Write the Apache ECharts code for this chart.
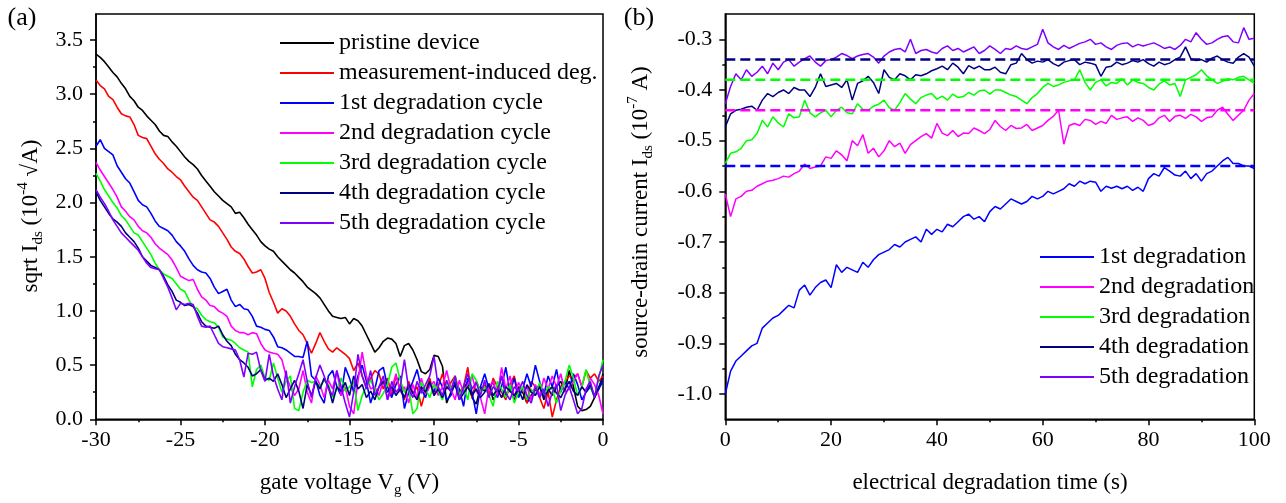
<!DOCTYPE html>
<html><head><meta charset="utf-8">
<script src="https://cdn.jsdelivr.net/npm/echarts@6/dist/echarts.min.js"></script>
<style>html,body{margin:0;padding:0;background:#fff}#c{width:1286px;height:503px}</style>
</head><body><div id="c"></div>
<script>
// ---------- panel (a) ----------
const gateVoltage = [-30,-29.75,-29.5,-29.25,-29,-28.75,-28.5,-28.25,-28,-27.75,-27.5,-27.25,-27,-26.75,-26.5,-26.25,-26,-25.75,-25.5,-25.25,-25,-24.75,-24.5,-24.25,-24,-23.75,-23.5,-23.25,-23,-22.75,-22.5,-22.25,-22,-21.75,-21.5,-21.25,-21,-20.75,-20.5,-20.25,-20,-19.75,-19.5,-19.25,-19,-18.75,-18.5,-18.25,-18,-17.75,-17.5,-17.25,-17,-16.75,-16.5,-16.25,-16,-15.75,-15.5,-15.25,-15,-14.75,-14.5,-14.25,-14,-13.75,-13.5,-13.25,-13,-12.75,-12.5,-12.25,-12,-11.75,-11.5,-11.25,-11,-10.75,-10.5,-10.25,-10,-9.75,-9.5,-9.25,-9,-8.75,-8.5,-8.25,-8,-7.75,-7.5,-7.25,-7,-6.75,-6.5,-6.25,-6,-5.75,-5.5,-5.25,-5,-4.75,-4.5,-4.25,-4,-3.75,-3.5,-3.25,-3,-2.75,-2.5,-2.25,-2,-1.75,-1.5,-1.25,-1,-0.75,-0.5,-0.25,0];
const sqrtPristine = [3.37,3.34,3.30,3.25, 3.20,3.16,3.10,3.05, 2.98,2.94,2.88,2.85, 2.80,2.76,2.72,2.66, 2.62,2.61,2.56,2.52, 2.47,2.42,2.38,2.35, 2.31,2.25,2.20,2.15, 2.10,2.06,2.02,1.99, 1.96,1.90,1.91,1.86, 1.80,1.75,1.70,1.64, 1.60,1.57,1.55,1.50, 1.46,1.42,1.38,1.35, 1.31,1.27,1.22,1.19, 1.16,1.12,1.06,1.00, 0.95,0.94,0.93,0.94, 0.88,0.93,0.91,0.86, 0.78,0.70,0.62,0.66, 0.72,0.75,0.74,0.70, 0.58,0.68,0.70,0.64, 0.55,0.44,0.42,0.46, 0.59,0.58,0.49,0.15, 0.25,0.32,0.22,0.28, 0.35,0.20,0.14,0.30, 0.26,0.33,0.18,0.25, 0.40,0.22,0.30,0.18, 0.30,0.25,0.15,0.22, 0.27,0.32,0.18,0.28, 0.22,0.30,0.35,0.26, 0.45,0.30,0.12,0.08, 0.09,0.12,0.20,0.28, 0.42];
const sqrtMeasDeg = [3.13,3.08,3.05,2.98, 2.95,2.88,2.82,2.80, 2.79,2.72,2.62,2.60, 2.59,2.52,2.45,2.40, 2.36,2.31,2.28,2.24, 2.21,2.15,2.10,2.05, 2.02,1.96,1.90,1.84, 1.82,1.78,1.72,1.66, 1.59,1.55,1.53,1.48, 1.41,1.35,1.36,1.38, 1.30,1.17,1.08,0.98, 1.02,1.00,0.95,0.88, 0.82,0.78,0.70,0.61, 0.70,0.80,0.72,0.65, 0.62,0.66,0.63,0.60, 0.56,0.45,0.52,0.40, 0.30,0.38,0.45,0.42, 0.28,0.38,0.22,0.40, 0.28,0.18,0.35,0.24, 0.30,0.12,0.26,0.38, 0.22,0.30,0.42,0.28, 0.34,0.40,0.25,0.30, 0.48,0.20,0.35,0.26, 0.32,0.22,0.38,0.30, 0.25,0.18,0.32,0.40, 0.22,0.28,0.15,0.35, 0.30,0.20,0.10,0.25, 0.02,0.18,0.30,0.35, 0.40,0.38,0.42,0.30, 0.45,0.38,0.42,0.35, 0.40];
const sqrtCycle1 = [2.52,2.58,2.50,2.47, 2.44,2.34,2.28,2.22, 2.18,2.10,2.02,1.98, 1.96,1.90,1.83,1.78, 1.76,1.74,1.70,1.64, 1.60,1.55,1.48,1.42, 1.38,1.36,1.35,1.30, 1.22,1.16,1.18,1.20, 1.10,1.04,1.06,1.02, 1.01,0.95,0.86,0.85, 0.83,0.82,0.76,0.67, 0.66,0.64,0.61,0.58, 0.58,0.57,0.72,0.40, 0.36,0.22,0.15,0.40, 0.45,0.30,0.22,0.48, 0.38,0.25,0.40,0.50, 0.35,0.15,0.28,0.45, 0.48,0.30,0.20,0.32, 0.40,0.10,0.25,0.35, 0.46,0.28,0.20,0.34, 0.25,0.38,0.30,0.18, 0.22,0.35,0.28,0.12, 0.38,0.25,0.05,0.30, 0.42,0.28,0.35,0.20, 0.30,0.48,0.25,0.38, 0.20,0.28,0.42,0.30, 0.50,0.35,0.22,0.40, 0.30,0.46,0.25,0.35, 0.28,0.42,0.32,0.18, 0.25,0.30,0.22,0.28, 0.35];
const sqrtCycle2 = [2.37,2.30,2.24,2.18, 2.12,2.05,1.96,1.92, 1.87,1.84,1.78,1.74, 1.72,1.68,1.62,1.58, 1.55,1.52,1.47,1.40, 1.32,1.30,1.28,1.29, 1.20,1.13,1.10,1.05, 1.04,1.00,0.98,0.95, 0.86,0.82,0.80,0.80, 0.78,0.80,0.79,0.70, 0.64,0.62,0.61,0.60, 0.55,0.40,0.30,0.22, 0.28,0.45,0.25,0.15, 0.40,0.32,0.20,0.36, 0.28,0.45,0.22,0.30, 0.12,0.05,0.35,0.62, 0.40,0.28,0.30,0.22, 0.36,0.18,0.28,0.42, 0.25,0.30,0.15,0.32, 0.20,0.38,0.24,0.30, 0.35,0.22,0.30,0.45, 0.28,0.18,0.36,0.25, 0.32,0.40,0.26,0.20, 0.05,0.30,0.35,0.22, 0.48,0.28,0.40,0.20, 0.34,0.26,0.30,0.18, 0.32,0.22,0.38,0.28, 0.40,0.30,0.42,0.25, 0.28,0.35,0.42,0.30, 0.25,0.38,0.32,0.22, 0.05];
const sqrtCycle3 = [2.27,2.20,2.12,2.06, 2.00,1.95,1.88,1.84, 1.78,1.72,1.70,1.64, 1.58,1.52,1.44,1.38, 1.34,1.32,1.30,1.25, 1.20,1.18,1.10,1.04, 1.02,0.96,0.92,0.90, 0.89,0.85,0.76,0.74, 0.73,0.70,0.66,0.64, 0.62,0.30,0.46,0.50, 0.38,0.36,0.52,0.38, 0.25,0.35,0.40,0.10, 0.08,0.25,0.36,0.34, 0.35,0.30,0.36,0.32, 0.20,0.28,0.38,0.26, 0.30,0.35,0.08,0.22, 0.30,0.36,0.28,0.18, 0.24,0.32,0.48,0.52, 0.36,0.25,0.30,0.05, 0.10,0.34,0.28,0.20, 0.32,0.26,0.18,0.35, 0.28,0.40,0.22,0.30, 0.18,0.42,0.36,0.25, 0.30,0.22,0.12,0.35, 0.28,0.20,0.32,0.15, 0.25,0.30,0.18,0.28, 0.22,0.34,0.20,0.30, 0.28,0.15,0.26,0.35, 0.50,0.38,0.22,0.30, 0.46,0.30,0.20,0.38, 0.55];
const sqrtCycle4 = [2.10,2.02,1.96,1.90, 1.85,1.82,1.78,1.72, 1.68,1.64,1.58,1.50, 1.46,1.42,1.40,1.38, 1.32,1.24,1.18,1.10, 1.08,1.05,1.06,1.04, 0.98,0.90,0.86,0.85, 0.84,0.86,0.78,0.72, 0.68,0.60,0.55,0.52, 0.48,0.40,0.42,0.46, 0.36,0.38,0.35,0.42, 0.32,0.20,0.28,0.36, 0.26,0.10,0.32,0.22, 0.35,0.28,0.38,0.30, 0.15,0.30,0.26,0.34, 0.22,0.40,0.28,0.32, 0.20,0.26,0.18,0.30, 0.35,0.25,0.30,0.22, 0.28,0.20,0.32,0.24, 0.18,0.30,0.25,0.35, 0.22,0.28,0.20,0.30, 0.26,0.32,0.18,0.24, 0.30,0.22,0.28,0.20, 0.25,0.32,0.22,0.28, 0.20,0.30,0.26,0.22, 0.28,0.18,0.32,0.25, 0.22,0.30,0.20,0.26, 0.30,0.24,0.20,0.28, 0.35,0.26,0.22,0.30, 0.25,0.32,0.20,0.30, 0.38];
const sqrtCycle5 = [2.12,2.05,1.99,1.92, 1.84,1.78,1.72,1.68, 1.64,1.60,1.56,1.50, 1.44,1.40,1.39,1.38, 1.30,1.22,1.12,1.01, 1.07,1.06,1.07,1.06, 0.95,0.86,0.85,0.86, 0.78,0.70,0.67,0.66, 0.65,0.64,0.55,0.39, 0.61,0.60,0.62,0.45, 0.35,0.60,0.40,0.28, 0.18,0.45,0.15,0.30, 0.42,0.55,0.35,0.20, 0.38,0.50,0.40,0.28, 0.22,0.45,0.30,0.15, 0.02,0.25,0.60,0.40, 0.28,0.45,0.22,0.30, 0.40,0.18,0.35,0.25, 0.30,0.55,0.28,0.20, 0.35,0.24,0.32,0.40, 0.58,0.30,0.22,0.36, 0.25,0.40,0.18,0.30, 0.42,0.28,0.34,0.22, 0.36,0.20,0.30,0.26, 0.40,0.24,0.18,0.30, 0.26,0.35,0.22,0.15, 0.30,0.20,0.28,0.12, 0.25,0.32,0.08,0.22, 0.30,0.18,0.05,0.10, 0.28,0.35,0.20,0.40, 0.50];
const namesA = ['pristine device','measurement-induced deg.','1st degradation cycle','2nd degradation cycle','3rd degradation cycle','4th degradation cycle','5th degradation cycle'];
const colorsA = ['#000000','#ff0000','#0000ff','#ff00ff','#00ff00','#000080','#8000ff'];
const leftYMajor = [0,0.5,1.0,1.5,2.0,2.5,3.0,3.5];
const leftYMinor = [0.25,0.75,1.25,1.75,2.25,2.75,3.25];

// ---------- panel (b) ----------
const timeS = [0,1,2,3,4,5,6,7,8,9,10,11,12,13,14,15,16,17,18,19,20,21,22,23,24,25,26,27,28,29,30,31,32,33,34,35,36,37,38,39,40,41,42,43,44,45,46,47,48,49,50,51,52,53,54,55,56,57,58,59,60,61,62,63,64,65,66,67,68,69,70,71,72,73,74,75,76,77,78,79,80,81,82,83,84,85,86,87,88,89,90,91,92,93,94,95,96,97,98,99,100];
const idsDeg1 = [-1.00,-0.955,-0.935,-0.925,-0.915,-0.905,-0.900,-0.870,-0.860,-0.850,
 -0.845,-0.835,-0.825,-0.830,-0.795,-0.785,-0.805,-0.790,-0.780,-0.775,
 -0.790,-0.745,-0.760,-0.750,-0.755,-0.760,-0.740,-0.750,-0.735,-0.725,
 -0.720,-0.715,-0.705,-0.710,-0.700,-0.695,-0.690,-0.700,-0.675,-0.685,
 -0.675,-0.680,-0.665,-0.670,-0.660,-0.650,-0.645,-0.655,-0.650,-0.660,
 -0.640,-0.630,-0.635,-0.625,-0.615,-0.620,-0.625,-0.620,-0.610,-0.615,
 -0.610,-0.600,-0.605,-0.600,-0.595,-0.585,-0.590,-0.580,-0.585,-0.580,
 -0.582,-0.600,-0.590,-0.594,-0.590,-0.595,-0.590,-0.598,-0.592,-0.600,
 -0.575,-0.565,-0.570,-0.553,-0.560,-0.568,-0.570,-0.560,-0.575,-0.565,
 -0.580,-0.565,-0.560,-0.550,-0.540,-0.533,-0.545,-0.545,-0.550,-0.550,
 -0.555];
const idsDeg2 = [-0.605,-0.650,-0.615,-0.610,-0.600,-0.598,-0.590,-0.585,-0.580,-0.578,
 -0.575,-0.570,-0.572,-0.565,-0.560,-0.546,-0.555,-0.552,-0.550,-0.532,
 -0.535,-0.520,-0.528,-0.540,-0.500,-0.510,-0.488,-0.525,-0.515,-0.532,
 -0.520,-0.500,-0.512,-0.505,-0.525,-0.508,-0.500,-0.492,-0.486,-0.495,
 -0.466,-0.485,-0.490,-0.480,-0.492,-0.485,-0.486,-0.475,-0.480,-0.486,
 -0.478,-0.460,-0.472,-0.480,-0.470,-0.476,-0.475,-0.468,-0.480,-0.475,
 -0.470,-0.460,-0.452,-0.440,-0.507,-0.470,-0.466,-0.470,-0.458,-0.460,
 -0.468,-0.462,-0.466,-0.450,-0.458,-0.455,-0.453,-0.462,-0.455,-0.460,
 -0.470,-0.466,-0.455,-0.450,-0.462,-0.452,-0.450,-0.456,-0.448,-0.453,
 -0.462,-0.455,-0.453,-0.440,-0.434,-0.448,-0.460,-0.450,-0.440,-0.420,
 -0.407];
const idsDeg3 = [-0.545,-0.525,-0.522,-0.515,-0.500,-0.498,-0.486,-0.460,-0.473,-0.453,
 -0.465,-0.473,-0.447,-0.455,-0.453,-0.420,-0.445,-0.453,-0.445,-0.440,
 -0.453,-0.440,-0.434,-0.445,-0.447,-0.427,-0.438,-0.440,-0.432,-0.428,
 -0.420,-0.435,-0.440,-0.425,-0.407,-0.418,-0.427,-0.415,-0.410,-0.407,
 -0.418,-0.412,-0.420,-0.408,-0.415,-0.413,-0.405,-0.410,-0.402,-0.400,
 -0.408,-0.400,-0.400,-0.405,-0.410,-0.413,-0.420,-0.427,-0.415,-0.407,
 -0.395,-0.387,-0.393,-0.390,-0.385,-0.382,-0.380,-0.360,-0.385,-0.400,
 -0.385,-0.380,-0.392,-0.385,-0.387,-0.378,-0.390,-0.380,-0.385,-0.387,
 -0.395,-0.400,-0.388,-0.382,-0.390,-0.387,-0.413,-0.380,-0.375,-0.370,
 -0.360,-0.372,-0.380,-0.387,-0.383,-0.378,-0.380,-0.375,-0.373,-0.380,
 -0.387];
const idsDeg4 = [-0.473,-0.447,-0.440,-0.438,-0.434,-0.432,-0.440,-0.420,-0.407,-0.413,
 -0.405,-0.400,-0.407,-0.395,-0.400,-0.400,-0.413,-0.395,-0.368,-0.393,
 -0.390,-0.387,-0.395,-0.380,-0.420,-0.387,-0.382,-0.373,-0.385,-0.407,
 -0.360,-0.375,-0.380,-0.368,-0.372,-0.380,-0.370,-0.372,-0.368,-0.362,
 -0.358,-0.353,-0.360,-0.347,-0.355,-0.368,-0.352,-0.358,-0.353,-0.360,
 -0.360,-0.355,-0.365,-0.368,-0.350,-0.347,-0.328,-0.340,-0.347,-0.343,
 -0.345,-0.340,-0.348,-0.353,-0.345,-0.342,-0.340,-0.350,-0.345,-0.347,
 -0.350,-0.373,-0.355,-0.353,-0.345,-0.350,-0.347,-0.342,-0.345,-0.340,
 -0.348,-0.353,-0.345,-0.350,-0.347,-0.340,-0.335,-0.315,-0.338,-0.342,
 -0.340,-0.345,-0.337,-0.333,-0.340,-0.345,-0.347,-0.335,-0.328,-0.335,
 -0.353];
const idsDeg5 = [-0.427,-0.393,-0.368,-0.380,-0.360,-0.373,-0.365,-0.353,-0.368,-0.347,
 -0.360,-0.345,-0.340,-0.353,-0.345,-0.338,-0.333,-0.345,-0.353,-0.342,
 -0.340,-0.335,-0.328,-0.332,-0.338,-0.333,-0.330,-0.328,-0.335,-0.347,
 -0.333,-0.325,-0.320,-0.318,-0.325,-0.300,-0.328,-0.322,-0.320,-0.325,
 -0.328,-0.318,-0.313,-0.322,-0.318,-0.325,-0.320,-0.315,-0.328,-0.322,
 -0.313,-0.320,-0.328,-0.318,-0.320,-0.313,-0.318,-0.320,-0.315,-0.310,
 -0.280,-0.307,-0.315,-0.320,-0.312,-0.318,-0.313,-0.308,-0.305,-0.300,
 -0.310,-0.307,-0.315,-0.320,-0.312,-0.308,-0.307,-0.315,-0.310,-0.313,
 -0.310,-0.307,-0.312,-0.318,-0.315,-0.320,-0.312,-0.300,-0.305,-0.287,
 -0.300,-0.310,-0.307,-0.300,-0.295,-0.293,-0.305,-0.307,-0.277,-0.300,
 -0.298];
const namesB = ['1st degradation','2nd degradation','3rd degradation','4th degradation','5th degradation'];
const colorsB = ['#0000ff','#ff00ff','#00ff00','#000080','#8000ff'];
const levelValues = [-0.55,-0.44,-0.38,-0.34];
const levelColors = ['#0000ff','#ff00ff','#00ff00','#000080'];
const levelRange = [0,100];
const rightYMajor = [-1.0,-0.9,-0.8,-0.7,-0.6,-0.5,-0.4,-0.3];
const rightYMinor = [-0.95,-0.85,-0.75,-0.65,-0.55,-0.45,-0.35];

const FONT = "'Liberation Serif','Times New Roman',serif";
const seriesA = [sqrtPristine,sqrtMeasDeg,sqrtCycle1,sqrtCycle2,sqrtCycle3,sqrtCycle4,sqrtCycle5];
const seriesB = [idsDeg1,idsDeg2,idsDeg3,idsDeg4,idsDeg5];

const axisLineStyle = {show:true,onZero:false,lineStyle:{color:'#000',width:1.5}};
function xAxisCfg(grid,min,max,interval){
  return {type:'value',gridIndex:grid,position:'bottom',min:min,max:max,interval:interval,
    axisLine:axisLineStyle,splitLine:{show:false},
    axisTick:{show:true,inside:false,length:6,lineStyle:{color:'#000',width:1.5}},
    minorTick:{show:true,splitNumber:2,length:3,lineStyle:{color:'#000',width:1.5}},
    axisLabel:{color:'#000',fontFamily:FONT,fontSize:22,margin:10}};
}
function yMain(grid,min,max,major){
  return {type:'value',gridIndex:grid,position:'left',min:min,max:max,
    axisLine:axisLineStyle,splitLine:{show:false},
    axisTick:{show:true,inside:false,length:6,customValues:major,lineStyle:{color:'#000',width:1.5}},
    axisLabel:{color:'#000',fontFamily:FONT,fontSize:22,margin:13,customValues:major,formatter:v=>Number(v).toFixed(1)}};
}
function yMinor(grid,min,max,minor){
  return {type:'value',gridIndex:grid,position:'left',offset:0,min:min,max:max,
    axisLine:{show:false,onZero:false},splitLine:{show:false},axisLabel:{show:false},
    axisTick:{show:true,inside:false,length:3,customValues:minor,lineStyle:{color:'#000',width:1.5}}};
}

const series = [];
seriesA.forEach((arr,i)=>{
  series.push({name:namesA[i],type:'line',xAxisIndex:0,yAxisIndex:0,symbol:'none',showSymbol:false,
    data:gateVoltage.map((v,k)=>[v,arr[k]]),lineStyle:{width:1.6,color:colorsA[i]},itemStyle:{color:colorsA[i]}});
});
seriesB.forEach((arr,i)=>{
  series.push({name:namesB[i],type:'line',xAxisIndex:1,yAxisIndex:2,symbol:'none',showSymbol:false,
    data:timeS.map((t,k)=>[t,arr[k]]),lineStyle:{width:1.5,color:colorsB[i]},itemStyle:{color:colorsB[i]}});
});
levelValues.forEach((lv,i)=>{
  series.push({name:'level'+i,type:'line',xAxisIndex:1,yAxisIndex:2,symbol:'none',showSymbol:false,
    data:levelRange.map(t=>[t,lv]),lineStyle:{width:2.5,color:levelColors[i],type:[10,5]},itemStyle:{color:levelColors[i]}});
});

const richMain = {fontFamily:FONT,fontSize:23,lineHeight:30,fill:'#000',color:'#000'};
const richSub = {fontFamily:FONT,fontSize:15,lineHeight:12,verticalAlign:'bottom',fill:'#000',color:'#000'};
const richSup = {fontFamily:FONT,fontSize:15,lineHeight:16,verticalAlign:'top',fill:'#000',color:'#000'};
function titleText(x,y,rot,text){
  return {type:'text',x:x,y:y,rotation:rot,silent:true,
    style:{text:text,rich:{m:richMain,sub:richSub,sup:richSup},align:'center',verticalAlign:'middle',textAlign:'center',textVerticalAlign:'middle',fill:'#000'}};
}
const legendText = {fontFamily:FONT,fontSize:24,color:'#000'};

const option = {
  animation:false,
  backgroundColor:'#fff',
  grid:[
    {left:96,top:14,width:507,height:405.3,show:true,borderColor:'#000',borderWidth:1.5,backgroundColor:'transparent'},
    {left:725.3,top:14,width:529,height:405.3,show:true,borderColor:'#000',borderWidth:1.5,backgroundColor:'transparent'}
  ],
  xAxis:[xAxisCfg(0,-30,0,5), xAxisCfg(1,0,100,20)],
  yAxis:[yMain(0,0,3.74,leftYMajor), yMinor(0,0,3.74,leftYMinor), yMain(1,-1.05,-0.25,rightYMajor), yMinor(1,-1.05,-0.25,rightYMinor)],
  legend:[
    {data:namesA,left:280,top:31,padding:0,orient:'vertical',icon:'rect',itemWidth:54,itemHeight:2,itemGap:6,selectedMode:false,textStyle:legendText},
    {data:namesB,left:1040,top:245,padding:0,orient:'vertical',icon:'rect',itemWidth:54,itemHeight:2,itemGap:6,selectedMode:false,textStyle:legendText}
  ],
  graphic:[
    titleText(31,216,Math.PI/2,'{m|sqrt I}{sub|ds}{m| (10}{sup|-4}{m| \u221AA)}'),
    titleText(641,212,Math.PI/2,'{m|source-drain current I}{sub|ds}{m| (10}{sup|-7}{m| A)}'),
    titleText(349.5,483,0,'{m|gate voltage V}{sub|g}{m| (V)}'),
    titleText(990,483,0,'{m|electrical degradation time (s)}'),
    {type:'text',x:22,y:18,silent:true,style:{text:'(a)',fontFamily:FONT,fontSize:26,fill:'#000',align:'center',verticalAlign:'middle',textAlign:'center',textVerticalAlign:'middle'}},
    {type:'text',x:639,y:18,silent:true,style:{text:'(b)',fontFamily:FONT,fontSize:26,fill:'#000',align:'center',verticalAlign:'middle',textAlign:'center',textVerticalAlign:'middle'}}
  ],
  series:series
};
const chart = echarts.init(document.getElementById('c'),null,{renderer:'canvas'});
chart.setOption(option);
</script></body></html>
